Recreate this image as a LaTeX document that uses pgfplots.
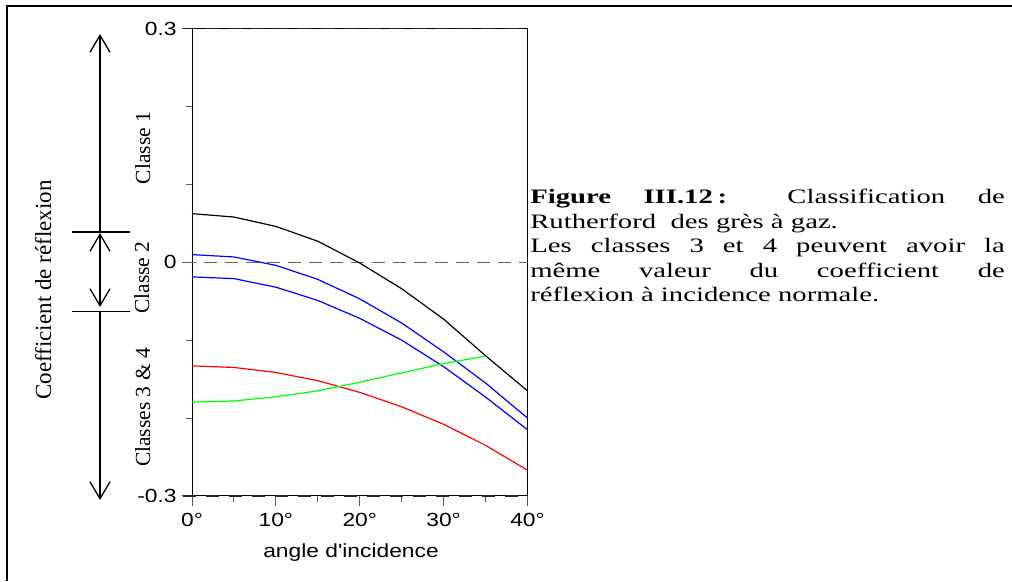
\documentclass[border=0pt]{standalone}
\usepackage{fontspec}
\setmainfont{Liberation Serif}
\newfontfamily\arial{Liberation Sans}
\usepackage{pgfplots}
\pgfplotsset{compat=1.18}
\usetikzlibrary{arrows.meta}

\begin{document}
\begin{tikzpicture}[x=1pt,y=1pt]
\useasboundingbox (0,0) rectangle (1012,581);
\draw[line width=2.6pt, line join=miter] (7,0) -- (7,575) -- (1012,575);
\begin{axis}[
  at={(192pt,85pt)}, anchor=south west, scale only axis,
  width=335.5pt, height=467.5pt,
  xmin=0, xmax=40, ymin=-0.3, ymax=0.3,
  clip=false,
  xtick={0,10,20,30,40}, xticklabels={0°,10°,20°,30°,40°},
  minor xtick={5,15,25,35},
  ytick={-0.3,0,0.3}, yticklabels={-0.3,0,0.3},
  minor ytick={-0.2,-0.1,0.1,0.2},
  tick pos=left, tick align=outside,
  major tick length=10pt, minor tick length=6pt,
  tick style={black!65, line width=1pt},
  ticklabel style={font=\arial\fontsize{19}{21}\selectfont, xscale=1.2},
  xticklabel style={yshift=-4pt},
  yticklabel style={xshift=-1pt},
  y axis line style={black, line width=1pt},
  x axis line style={black!40, line width=1.5pt},
]
\draw[black!85, line width=1.5pt, dash pattern=on 13pt off 10pt] (axis cs:-1.07,0.3) -- (axis cs:40,0.3);
\draw[black!85, line width=1.5pt, dash pattern=on 13pt off 10pt] (axis cs:-1.07,-0.3) -- (axis cs:40,-0.3);
\draw[black!60, line width=1.2pt, dash pattern=on 13pt off 8pt] (axis cs:-1.07,0) -- (axis cs:40,0);

\addplot[black, line width=1.2pt] coordinates {
(0,0.0624) (5,0.058) (10,0.046) (15,0.027) (20,-0.001) (25,-0.034) (30,-0.073) (35,-0.120) (40,-0.165)};
\addplot[blue, line width=1.2pt] coordinates {
(0,0.0098) (5,0.0068) (10,-0.004) (15,-0.022) (20,-0.047) (25,-0.078) (30,-0.115) (35,-0.155) (40,-0.200)};
\addplot[blue, line width=1.2pt] coordinates {
(0,-0.0188) (5,-0.021) (10,-0.032) (15,-0.049) (20,-0.072) (25,-0.100) (30,-0.134) (35,-0.173) (40,-0.215)};
\addplot[red, line width=1.2pt] coordinates {
(0,-0.133) (5,-0.135) (10,-0.1415) (15,-0.152) (20,-0.167) (25,-0.1855) (30,-0.208) (35,-0.235) (40,-0.267)};
\addplot[green, line width=1.2pt] coordinates {
(0,-0.1795) (5,-0.178) (10,-0.1727) (15,-0.165) (20,-0.154) (25,-0.142) (30,-0.130) (35,-0.1205)};
\end{axis}

% x label
\node[font=\arial\fontsize{19}{21}\selectfont, xscale=1.2] at (351,28) {angle d'incidence};

% left annotations
\begin{scope}[line width=1.3pt]
\draw (72,349) -- (130,349);
\draw (72,269.3) -- (130,269.3);
\draw[-{Straight Barb[length=17pt,width=20pt]}] (100,349) -- (100,547);
\draw[{Straight Barb[length=17pt,width=20pt]}-{Straight Barb[length=17pt,width=20pt]}] (100,274) -- (100,348);
\draw[-{Straight Barb[length=17pt,width=20pt]}] (100,269.3) -- (100,81);
\end{scope}
\node[rotate=90, anchor=base, font=\fontsize{21.5}{24}\selectfont] at (150,433) {Classe 1};
\node[rotate=90, anchor=base, font=\fontsize{21.5}{24}\selectfont] at (149,303.5) {Classe 2};
\node[rotate=90, anchor=base, font=\fontsize{21.5}{24}\selectfont] at (150,173.5) {Classes 3 \& 4};
\node[rotate=90, anchor=base, font=\fontsize{23}{26}\selectfont] at (51,291) {Coefficient de réflexion};

% caption text
\node[anchor=north west, inner sep=0pt, xscale=1.4, text width=339pt, align=justify, font=\fontsize{20.5}{24.5}\selectfont] at (530,392)
{\textbf{Figure III.12\,:} Classification de\linebreak Rutherford\ \ des grès à gaz.\newline Les classes 3 et 4 peuvent avoir la\linebreak même valeur du coefficient de\linebreak réflexion à incidence normale.};
\end{tikzpicture}
\end{document}
